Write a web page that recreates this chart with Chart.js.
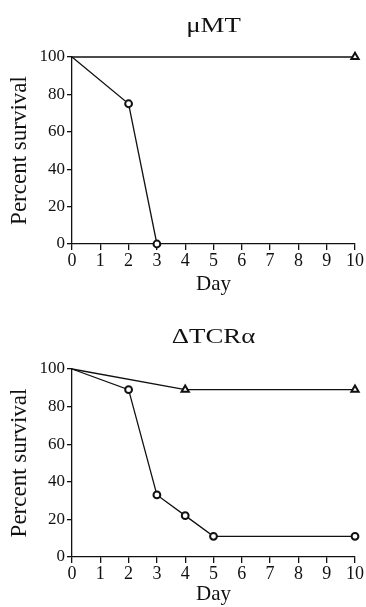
<!DOCTYPE html>
<html>
<head>
<meta charset="utf-8">
<script src="https://cdn.jsdelivr.net/npm/chart.js@4"></script>
<style>
  body { margin: 0; background: #fff; }
  canvas { display: block; }
</style>
</head>
<body>
<canvas id="chartMT" width="366" height="300"></canvas>
<canvas id="chartTCR" width="366" height="307"></canvas>
<script>
// dados
const dayTicks = [0, 1, 2, 3, 4, 5, 6, 7, 8, 9, 10];
const percentTicks = [0, 20, 40, 60, 80, 100];

// painel de cima (μMT)
const mtCircleDays = [0, 2, 3];
const mtCircleSurvival = [100, 75, 0];
const mtTriangleDays = [0, 10];
const mtTriangleSurvival = [100, 100];

// painel de baixo (ΔTCRα)
const tcrCircleDays = [0, 2, 3, 4, 5, 10];
const tcrCircleSurvival = [100, 89, 33, 22, 11, 11];
const tcrTriangleDays = [0, 4, 10];
const tcrTriangleSurvival = [100, 89, 89];

const serif = 'Liberation Serif';
const ink = '#111';

// título centrado na área do gráfico (o plugin padrão centra no canvas todo)
const panelTitle = {
    id: 'panelTitle',
    afterDraw(chart, args, opts) {
        const { ctx, chartArea } = chart;
        ctx.save();
        ctx.fillStyle = ink;
        ctx.font = '22px "' + serif + '"';
        ctx.textAlign = 'center';
        ctx.textBaseline = 'alphabetic';
        ctx.translate((chartArea.left + chartArea.right) / 2, opts.baseline);
        ctx.scale(1.22, 1); // o original está esticado na horizontal
        ctx.fillText(opts.text, 0, 0);
        ctx.restore();
    }
};

function toPoints(xs, ys) {
    return xs.map((x, i) => ({ x: x, y: ys[i] }));
}

// sem marcador no dia 0
function radiusList(xs, r) {
    return xs.map((x, i) => i === 0 ? 0 : r);
}

function makeDataset(xs, ys, style) {
    const triangle = style === 'triangle';
    return {
        data: toPoints(xs, ys),
        borderColor: ink,
        borderWidth: 1.3,
        pointStyle: triangle ? 'triangle' : 'circle',
        pointRadius: radiusList(xs, triangle ? 4.2 : 3.4),
        pointBorderWidth: 2,
        pointBackgroundColor: '#fff',
        pointBorderColor: ink,
        tension: 0,
        clip: false,
    };
}

function makeChart(id, title, datasets, cfg) {
    const ctx = document.getElementById(id).getContext('2d');
    return new Chart(ctx, {
        type: 'line',
        data: { datasets: datasets },
        plugins: [panelTitle],
        options: {
            responsive: false,
            animation: false,
            layout: { padding: { left: 0, right: 11, top: cfg.top, bottom: 0 } },
            plugins: {
                legend: { display: false },
                tooltip: { enabled: false },
                title: { display: false },
                panelTitle: { text: title, baseline: cfg.titleBaseline }
            },
            scales: {
                x: {
                    type: 'linear',
                    min: 0,
                    max: 10,
                    afterBuildTicks: (s) => { s.ticks = dayTicks.map(v => ({ value: v })); },
                    afterFit: (s) => { s.height = cfg.xHeight; },
                    border: { display: true, color: ink, width: 1.3 },
                    grid: { drawOnChartArea: false, drawTicks: true, tickLength: 6, color: ink, lineWidth: 1.3 },
                    ticks: { color: ink, padding: 0, maxRotation: 0, font: { family: serif, size: 18 } },
                    title: {
                        display: true,
                        text: 'Day',
                        color: ink,
                        font: { family: serif, size: 21 },
                        padding: { top: 0, bottom: cfg.dayBottom }
                    }
                },
                y: {
                    min: 0,
                    max: 100,
                    afterBuildTicks: (s) => { s.ticks = percentTicks.map(v => ({ value: v })); },
                    afterFit: (s) => { s.width = 72; },
                    border: { display: true, color: ink, width: 1.3 },
                    grid: { drawOnChartArea: false, drawTicks: true, tickLength: 5, color: ink, lineWidth: 1.3 },
                    ticks: { color: ink, padding: 2, font: { family: serif, size: 17 } },
                    title: {
                        display: true,
                        text: 'Percent survival',
                        color: ink,
                        font: { family: serif, size: 23 },
                        padding: { top: 6, bottom: 0 }
                    }
                }
            }
        }
    });
}

makeChart('chartMT', 'μMT', [
    makeDataset(mtCircleDays, mtCircleSurvival, 'circle'),
    makeDataset(mtTriangleDays, mtTriangleSurvival, 'triangle')
], { top: 57, titleBaseline: 32, xHeight: 56, dayBottom: 3 });

makeChart('chartTCR', 'ΔTCRα', [
    makeDataset(tcrCircleDays, tcrCircleSurvival, 'circle'),
    makeDataset(tcrTriangleDays, tcrTriangleSurvival, 'triangle')
], { top: 69, titleBaseline: 43, xHeight: 50, dayBottom: 0 });
</script>
</body>
</html>
